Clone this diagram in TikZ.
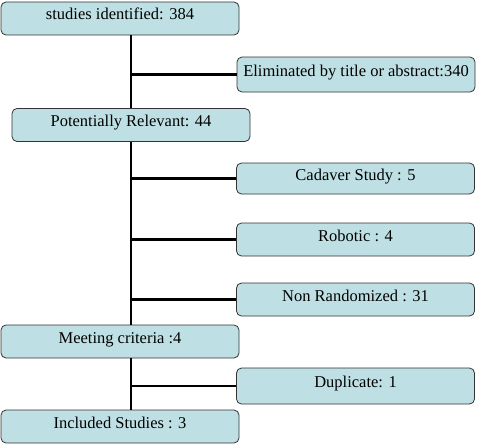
\documentclass[tikz,border=0pt]{standalone}
\usepackage{fontspec}
\setmainfont{Liberation Serif}
\usetikzlibrary{positioning,calc}
\definecolor{boxfill}{RGB}{190,224,228}

\begin{document}
\begin{tikzpicture}[x=1pt, y=-1pt,
    stage/.style={draw=black!80, fill=boxfill, rounded corners=5pt, line width=0.8pt,
        minimum width=238pt, minimum height=33pt, inner sep=0pt,
        text height=10pt, text depth=7pt, font=\fontsize{16.5}{19}\selectfont},
    link/.style={line width=2.4pt}]
    \useasboundingbox (0,0) rectangle (478,444);

    % Main stages
    \node [stage] (ident) at (120, 18.5) {studies identified: 384};
    \node [stage] (relev) at (131, 125) {Potentially Relevant: 44};
    \node [stage] (meet) at (120, 341.5) {Meeting criteria :4};
    \node [stage] (incl) at (120, 426.5) {Included Studies : 3};

    % Excluded
    \node [stage, minimum height=35pt] (elim) at (356, 74.5) {Eliminated by title or abstract:340};
    \node [stage, minimum height=31pt] (cadav) at (355.5, 178.5) {Cadaver Study : 5};
    \node [stage] (robot) at (355.5, 239.5) {Robotic : 4};
    \node [stage] (nonrand) at (355.5, 299.5) {Non Randomized : 31};
    \node [stage, minimum height=36pt] (dupl) at (355.5, 386) {Duplicate: 1};

    % Trunk
    \draw [link] (ident.south -| relev.north) -- (relev.north);
    \draw [link] (relev.south) -- (meet.north -| relev.south);
    \draw [link] (meet.south -| relev.south) -- (incl.north -| relev.south);

    % Branches
    \draw [link] (elim.west -| relev.north) -- (elim.west);
    \draw [link] (cadav.west -| relev.south) -- (cadav.west);
    \draw [link] (robot.west -| relev.south) -- (robot.west);
    \draw [link] (nonrand.west -| relev.south) -- (nonrand.west);
    \draw [link] (dupl.west -| relev.south) -- (dupl.west);
\end{tikzpicture}
\end{document}
